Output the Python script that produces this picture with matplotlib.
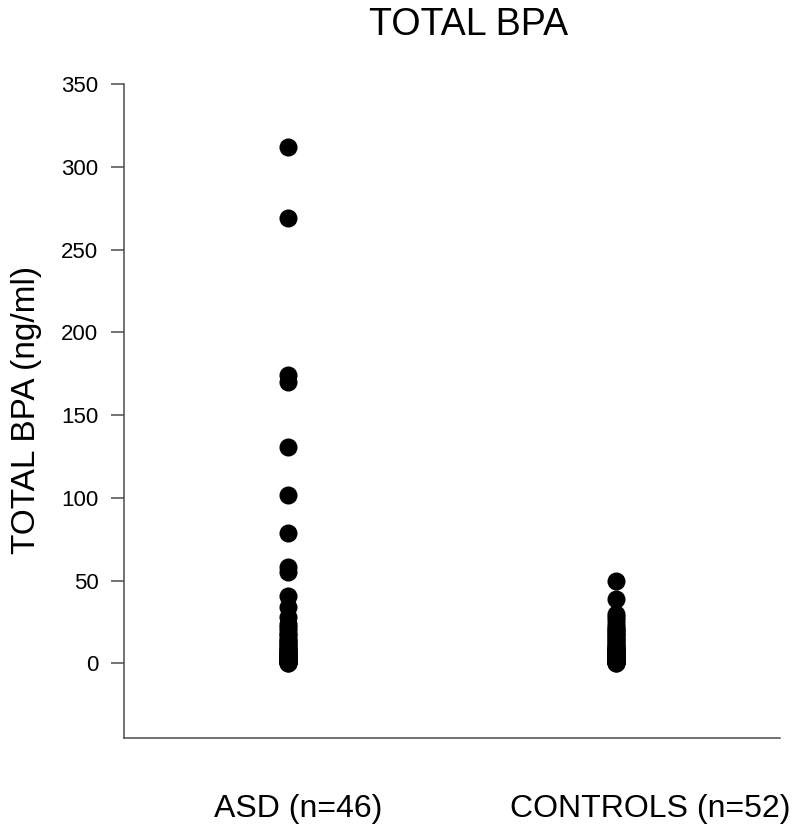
import numpy as np
import matplotlib
matplotlib.use("Agg")
import matplotlib.pyplot as plt

plt.rcParams["font.family"] = ["Liberation Sans", "DejaVu Sans"]

# valeurs (ng/ml)
groups = ["ASD (n=46)", "CONTROLS (n=52)"]
asd = [312, 269, 174, 170, 131, 102, 79, 58, 55,
       41, 34, 28, 24, 22, 20, 18, 17, 15, 14,
       13, 12, 11, 10, 9, 9, 8, 7, 7, 6,
       6, 5, 5, 4, 4, 4, 3, 3, 3, 2,
       2, 2, 1.5, 1, 1, 0.5, 0.3]
controls = [50, 39,
            30, 28, 26, 24, 22, 21, 20, 19, 18, 17,
            16, 15, 14, 13, 12, 11, 10, 10, 9, 9,
            8, 8, 7, 7, 6, 6, 6, 5, 5, 5,
            4, 4, 4, 4, 3, 3, 3, 3, 2, 2,
            2, 2, 2, 1.5, 1.5, 1, 1, 1, 0.5, 0.5]
yticks = [0, 50, 100, 150, 200, 250, 300, 350]

W, H = 800, 836
fig = plt.figure(figsize=(W / 100, H / 100), dpi=100)
ax = fig.add_axes([124 / W, 1 - 738 / H, (780 - 124) / W, (738 - 84) / H])

for i, vals in enumerate([asd, controls]):
    ax.plot(np.full(len(vals), i + 0.5), vals, "o", color="black",
            markersize=13, markeredgewidth=0)

ax.set_xlim(0, 2)
ax.set_ylim(-45, 350)
ax.set_yticks(yticks)
ax.set_xticks([])
axis_col = "#4d4d4d"
for s in ["top", "right"]:
    ax.spines[s].set_visible(False)
for s in ["left", "bottom"]:
    ax.spines[s].set_color(axis_col)
    ax.spines[s].set_linewidth(1.1)
ax.spines["left"].set_bounds(-45, 350)
ax.tick_params(axis="y", length=9.4, width=1.1, color=axis_col,
               labelsize=16, pad=9)

# textes
fig.text(469 / W, 1 - 35 / H, "TOTAL BPA", fontsize=27,
         ha="center", va="baseline")
fig.text(27 / W, 1 - 410 / H, "TOTAL BPA (ng/ml)", fontsize=24,
         rotation=90, ha="center", va="center")
fig.text(298 / W, 1 - 817 / H, groups[0], fontsize=23,
         ha="center", va="baseline")
fig.text(650 / W, 1 - 817 / H, groups[1], fontsize=23,
         ha="center", va="baseline")

fig.savefig("out.png", dpi=100)
